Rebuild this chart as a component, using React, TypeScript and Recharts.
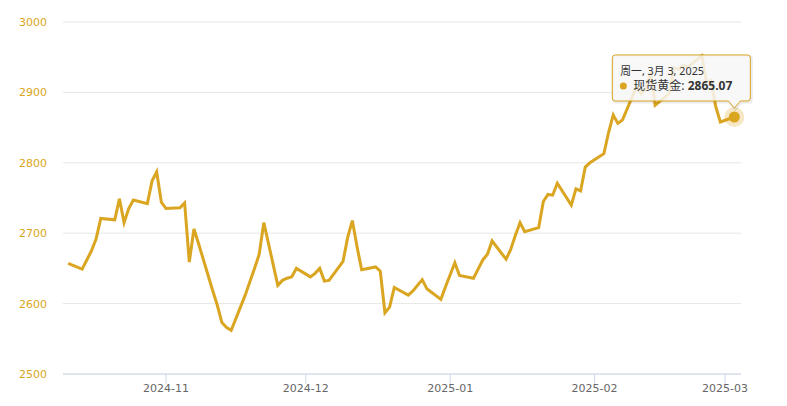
import React from "react";
import { LineChart, Line, XAxis, YAxis, CartesianGrid } from "recharts";

const dates: string[] = [
  "2024-10-11", "2024-10-14", "2024-10-15", "2024-10-16", "2024-10-17", "2024-10-18",
  "2024-10-21", "2024-10-22", "2024-10-23", "2024-10-24", "2024-10-25",
  "2024-10-28", "2024-10-29", "2024-10-30", "2024-10-31", "2024-11-01",
  "2024-11-04", "2024-11-05", "2024-11-06", "2024-11-07", "2024-11-08",
  "2024-11-11", "2024-11-12", "2024-11-13", "2024-11-14", "2024-11-15",
  "2024-11-18", "2024-11-19", "2024-11-20", "2024-11-21", "2024-11-22",
  "2024-11-25", "2024-11-26", "2024-11-27", "2024-11-28", "2024-11-29",
  "2024-12-02", "2024-12-03", "2024-12-04", "2024-12-05", "2024-12-06",
  "2024-12-09", "2024-12-10", "2024-12-11", "2024-12-12", "2024-12-13",
  "2024-12-16", "2024-12-17", "2024-12-18", "2024-12-19", "2024-12-20",
  "2024-12-23", "2024-12-24", "2024-12-26", "2024-12-27",
  "2024-12-30", "2024-12-31", "2025-01-02", "2025-01-03",
  "2025-01-06", "2025-01-07", "2025-01-08", "2025-01-09", "2025-01-10",
  "2025-01-13", "2025-01-14", "2025-01-15", "2025-01-16", "2025-01-17",
  "2025-01-20", "2025-01-21", "2025-01-22", "2025-01-23", "2025-01-24",
  "2025-01-27", "2025-01-28", "2025-01-29", "2025-01-30", "2025-01-31",
  "2025-02-03", "2025-02-04", "2025-02-05", "2025-02-06", "2025-02-07",
  "2025-02-10", "2025-02-11", "2025-02-12", "2025-02-13", "2025-02-14",
  "2025-02-17", "2025-02-18", "2025-02-19", "2025-02-20", "2025-02-21",
  "2025-02-24", "2025-02-25", "2025-02-26", "2025-02-27", "2025-02-28",
  "2025-03-03",
];

const goldPrices: number[] = [
  2657, 2649, 2662, 2675, 2692, 2721,
  2719, 2749, 2715, 2735, 2747,
  2742, 2774, 2787, 2744, 2735,
  2736, 2743, 2659, 2706, 2685,
  2619, 2598, 2573, 2566, 2562,
  2612, 2631, 2650, 2670, 2715,
  2626, 2633, 2636, 2638, 2650,
  2638, 2643, 2650, 2632, 2633,
  2660, 2694, 2718, 2681, 2648,
  2652, 2646, 2587, 2595, 2623,
  2612, 2618, 2634, 2621,
  2606, 2624, 2658, 2640,
  2636, 2649, 2662, 2670, 2689,
  2663, 2677, 2697, 2715, 2702,
  2708, 2745, 2755, 2754, 2771,
  2740, 2763, 2760, 2794, 2800,
  2813, 2843, 2868, 2856, 2861,
  2908, 2898, 2905, 2928, 2882,
  2898, 2935, 2933, 2938, 2936,
  2952, 2915, 2917, 2880, 2858,
  2865.07,
];

const xTickLabels: string[] = ["2024-11", "2024-12", "2025-01", "2025-02", "2025-03"];
const yTicks: number[] = [2500, 2600, 2700, 2800, 2900, 3000];
const seriesName = "现货黄金";
const weekdayNames: string[] = ["周日", "周一", "周二", "周三", "周四", "周五", "周六"];

const DAY = 86400000;
const toTs = (s: string) => {
  const [y, m, d] = s.split("-").map(Number);
  return Date.UTC(y, m - 1, d || 1);
};

const data = dates.map((d, i) => ({ t: toTs(d), v: goldPrices[i] }));
const xTicks = xTickLabels.map((s) => toTs(s + "-01"));
const xDomain: [number, number] = [toTs("2024-11-01") - 22.11 * DAY, toTs("2025-03-01") + 3.43 * DAY];

const GOLD = "#DAA520";
const FONT = '"Lucida Grande", "Lucida Sans Unicode", "DejaVu Sans", "Noto Sans CJK SC", Arial, sans-serif';
const TIP_FONT = '"Noto Sans", "Noto Sans CJK SC", sans-serif';

const fmtTick = (t: number) => {
  const d = new Date(t);
  const m = d.getUTCMonth() + 1;
  return `${d.getUTCFullYear()}-${m < 10 ? "0" + m : m}`;
};

const fmtTooltipDate = (t: number) => {
  const d = new Date(t);
  return `${weekdayNames[d.getUTCDay()]}, ${d.getUTCMonth() + 1}月 ${d.getUTCDate()}, ${d.getUTCFullYear()}`;
};

const renderDot = (props: any) => {
  const { cx, cy, index, payload } = props;
  if (index !== data.length - 1 || cx == null || cy == null) {
    return <g key={`dot-${index}`} />;
  }
  const L = cx - 122;
  const R = cx + 16;
  const T = cy - 62;
  const B = cy - 16;
  const r = 3;
  const path = `M ${L + r} ${T} H ${R - r} Q ${R} ${T} ${R} ${T + r} V ${B - r} Q ${R} ${B} ${R - r} ${B} H ${cx + 6} L ${cx} ${cy - 9} L ${cx - 6} ${B} H ${L + r} Q ${L} ${B} ${L} ${B - r} V ${T + r} Q ${L} ${T} ${L + r} ${T} Z`;
  return (
    <g key={`dot-${index}`}>
      <circle cx={cx} cy={cy} r={10} fill={GOLD} fillOpacity={0.25} />
      <circle cx={cx} cy={cy} r={5.5} fill={GOLD} />
      <path d={path} transform="translate(1,1)" fill="none" stroke="#000" strokeOpacity={0.08} strokeWidth={3} />
      <path d={path} fill="rgba(247,247,247,0.85)" stroke={GOLD} strokeWidth={1} />
      <text x={L + 8} y={cy - 42} fontSize={10.8} fill="#333" fontFamily={TIP_FONT}>
        {fmtTooltipDate(payload.t)}
      </text>
      <circle cx={L + 11} cy={cy - 31} r={3.5} fill={GOLD} />
      <text x={L + 21} y={cy - 27} fontSize={12} fill="#333" fontFamily={TIP_FONT}>
        {seriesName}: <tspan fontWeight="bold">{payload.v.toFixed(2)}</tspan>
      </text>
    </g>
  );
};

export default function App() {
  return (
    <div style={{ position: "absolute", left: 0, top: 0, width: 787, height: 406, background: "#fff" }}>
      <LineChart
        width={787}
        height={406}
        data={data}
        margin={{ top: 22, right: 46, bottom: 0, left: 0 }}
      >
        <CartesianGrid horizontal vertical={false} stroke="#e6e6e6" />
        <XAxis
          dataKey="t"
          type="number"
          scale="time"
          domain={xDomain}
          ticks={xTicks}
          tickFormatter={fmtTick}
          height={32}
          stroke="#ccd6eb"
          axisLine={{ stroke: "#ccd6eb" }}
          tickLine={{ stroke: "#ccd6eb" }}
          tickSize={10}
          tickMargin={0}
          tick={{ fill: "#666666", fontSize: 11, fontFamily: FONT }}
        />
        <YAxis
          type="number"
          domain={[2500, 3000]}
          ticks={yTicks}
          width={63}
          axisLine={false}
          tickLine={false}
          tickSize={0}
          tickMargin={16}
          tick={{ fill: GOLD, fontSize: 11, fontFamily: FONT }}
        />
        <Line
          type="linear"
          dataKey="v"
          stroke={GOLD}
          strokeWidth={3}
          dot={renderDot}
          activeDot={false}
          isAnimationActive={false}
        />
      </LineChart>
    </div>
  );
}
